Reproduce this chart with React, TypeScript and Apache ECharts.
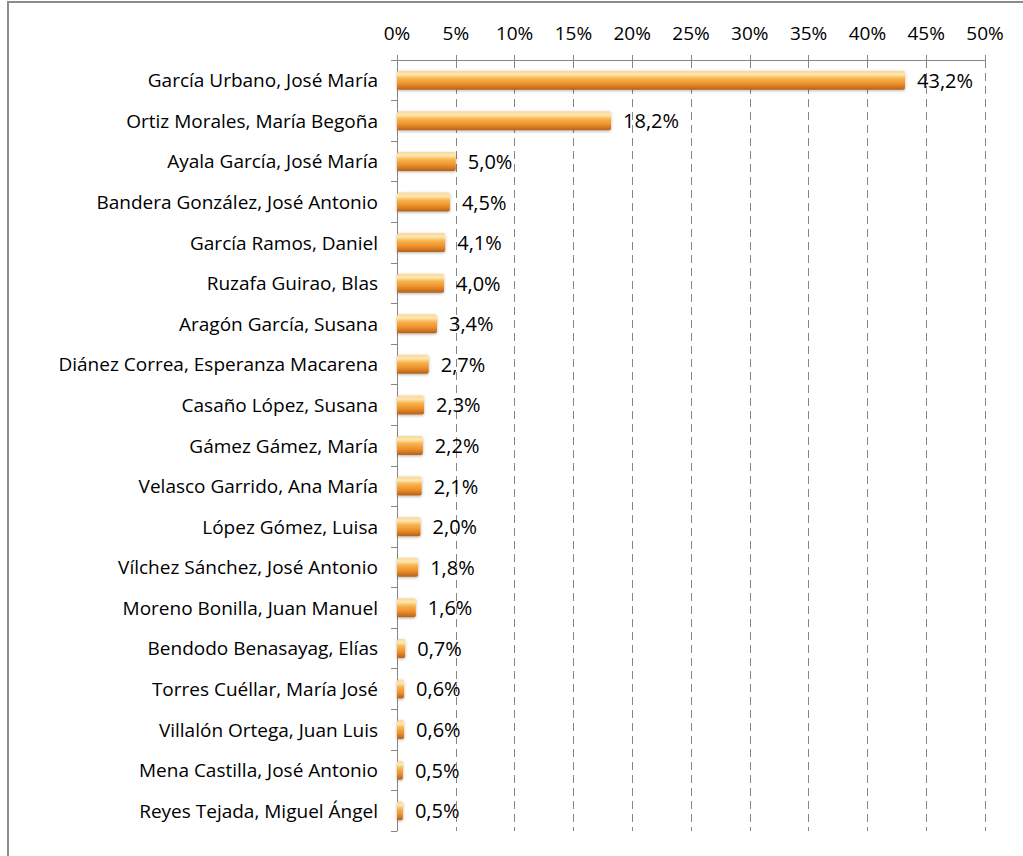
import React, { useEffect, useRef } from "react";
import * as echarts from "echarts";

const categories = [
  "García Urbano, José María",
  "Ortiz Morales, María Begoña",
  "Ayala García, José María",
  "Bandera González, José Antonio",
  "García Ramos, Daniel",
  "Ruzafa Guirao, Blas",
  "Aragón García, Susana",
  "Diánez Correa, Esperanza Macarena",
  "Casaño López, Susana",
  "Gámez Gámez, María",
  "Velasco Garrido, Ana María",
  "López Gómez, Luisa",
  "Vílchez Sánchez, José Antonio",
  "Moreno Bonilla, Juan Manuel",
  "Bendodo Benasayag, Elías",
  "Torres Cuéllar, María José",
  "Villalón Ortega, Juan Luis",
  "Mena Castilla, José Antonio",
  "Reyes Tejada, Miguel Ángel",
];

const values = [43.2, 18.2, 5.0, 4.5, 4.1, 4.0, 3.4, 2.7, 2.3, 2.2, 2.1, 2.0, 1.8, 1.6, 0.7, 0.6, 0.6, 0.5, 0.5];

const FONT = "Open Sans";

export default function App() {
  const ref = useRef<HTMLDivElement>(null);
  useEffect(() => {
    if (!ref.current) return;
    const chart = echarts.init(ref.current, null, { renderer: "svg" });
    const barColor = new echarts.graphic.LinearGradient(0, 0, 0, 1, [
      { offset: 0, color: "#fbd79a" },
      { offset: 0.2, color: "#fde7b0" },
      { offset: 0.4, color: "#f9b44e" },
      { offset: 0.7, color: "#ec8f2a" },
      { offset: 1, color: "#b5601a" },
    ]);
    chart.setOption({
      animation: false,
      backgroundColor: "#ffffff",
      graphic: [
        {
          type: "rect",
          shape: { x: 8, y: 2, width: 1100, height: 1000 },
          style: { fill: "none", stroke: "#8c8c8c", lineWidth: 2 },
          silent: true,
        },
      ],
      grid: { left: 397, right: 38, top: 60, bottom: 25, containLabel: false },
      xAxis: {
        type: "value",
        position: "top",
        min: 0,
        max: 50,
        interval: 5,
        axisLine: { show: true, lineStyle: { color: "#868686", width: 1 } },
        axisTick: { show: true, length: 5, lineStyle: { color: "#868686" } },
        axisLabel: {
          formatter: (v: number) => `${v}%`,
          color: "#000",
          fontFamily: FONT,
          fontSize: 19,
          margin: 18,
        },
        splitLine: { show: true, lineStyle: { color: "#868686", type: [8, 5], width: 1 } },
      },
      yAxis: {
        type: "category",
        data: categories,
        inverse: true,
        axisLine: { show: true, lineStyle: { color: "#868686", width: 1 } },
        axisTick: { show: true, length: 6, lineStyle: { color: "#868686" } },
        axisLabel: { color: "#000", fontFamily: FONT, fontSize: 19, margin: 19 },
      },
      series: [
        {
          type: "bar",
          data: values,
          barWidth: 19,
          itemStyle: {
            color: barColor,
            borderRadius: 2,
            shadowColor: "rgba(0,0,0,0.3)",
            shadowBlur: 3,
            shadowOffsetY: 1,
          },
          label: {
            show: true,
            position: "right",
            distance: 12,
            color: "#000",
            fontFamily: FONT,
            fontSize: 20,
            formatter: (p: any) => `${p.value.toFixed(1).replace(".", ",")}%`,
          },
        },
      ],
    });
    return () => chart.dispose();
  }, []);
  return (
    <div
      ref={ref}
      style={{ position: "absolute", left: 0, top: 0, width: 1023, height: 856 }}
    />
  );
}
